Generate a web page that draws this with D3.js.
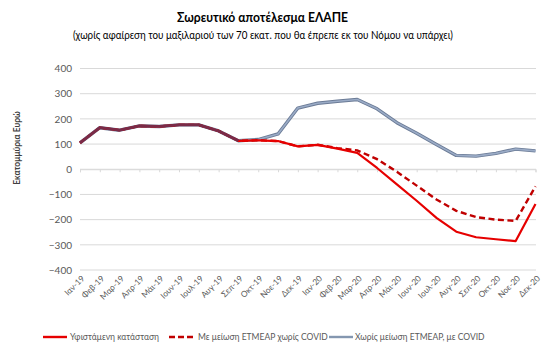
<!DOCTYPE html>
<html><head><meta charset="utf-8">
<script src="https://cdn.jsdelivr.net/npm/d3@7"></script>
<style>body{margin:0;background:#fff;} svg{display:block;font-family:Lato,"Open Sans",sans-serif;}</style>
</head><body>
<svg id="c" width="559" height="354"></svg>
<script>
const months = ["Ιαν-19","Φεβ-19","Μαρ-19","Απρ-19","Μάι-19","Ιουν-19","Ιουλ-19","Αυγ-19","Σεπ-19","Οκτ-19","Νοε-19","Δεκ-19",
                "Ιαν-20","Φεβ-20","Μαρ-20","Απρ-20","Μάι-20","Ιουν-20","Ιουλ-20","Αυγ-20","Σεπ-20","Οκτ-20","Νοε-20","Δεκ-20"];
const current = [105,165,155,172,170,176,176,152,113,115,112,91,97,82,65,5,-60,-125,-193,-248,-270,-278,-285,-138];
const noCovid = [105,165,155,172,170,176,176,152,113,115,112,91,97,84,75,40,-10,-65,-120,-165,-190,-200,-205,-68];
const covid   = [105,165,155,172,170,176,176,152,113,118,140,243,262,270,277,240,185,143,98,55,52,63,80,73];
const yTicks = [-400,-300,-200,-100,0,100,200,300,400];
const legendLabels = ["Υφιστάμενη κατάσταση","Με μείωση  ΕΤΜΕΑΡ χωρίς COVID","Χωρίς μείωση ΕΤΜΕΑΡ, με COVID"];

const svg = d3.select("#c");
const x = d3.scalePoint().domain(months).range([80, 535.5]);
const y = d3.scaleLinear().domain([-400, 400]).range([270, 68.5]);

// title
svg.append("text").attr("x", 262.5).attr("y", 22).attr("text-anchor","middle")
  .attr("font-size", 13).attr("font-weight","bold").attr("fill","#000")
  .attr("textLength",171).attr("lengthAdjust","spacingAndGlyphs")
  .text("Σωρευτικό αποτέλεσμα ΕΛΑΠΕ");
svg.append("text").attr("x", 263).attr("y", 39).attr("text-anchor","middle")
  .attr("font-size", 10.5).attr("fill","#000")
  .attr("textLength",380).attr("lengthAdjust","spacingAndGlyphs")
  .text("(χωρίς αφαίρεση του μαξιλαριού των 70 εκατ. που θα έπρεπε εκ του Νόμου να υπάρχει)");

// gridlines
svg.append("g").selectAll("line").data(yTicks).join("line")
  .attr("x1", 80).attr("x2", 536).attr("y1", d => y(d)).attr("y2", d => y(d))
  .attr("stroke", "#d9d9d9").attr("stroke-width", 1);

// y axis labels
const yAxis = d3.axisLeft(y).tickValues(yTicks).tickSize(0).tickPadding(8);
const gy = svg.append("g").attr("transform","translate(80,0)").call(yAxis);
gy.select(".domain").remove();
gy.selectAll("text").attr("font-size", 10).attr("fill", "#595959").attr("font-family","Lato,'Open Sans',sans-serif");

// zero axis with ticks
const xAxis = d3.axisBottom(x).tickSize(3).tickFormat("");
const gx = svg.append("g").attr("transform", `translate(0,${y(0)})`).call(xAxis);
gx.select(".domain").attr("stroke","#d9d9d9");
gx.selectAll(".tick line").attr("stroke","#d9d9d9");

// x labels (rotated)
svg.append("g").selectAll("text").data(months).join("text")
  .attr("transform", d => `translate(${x(d)+3},${277}) rotate(-45)`)
  .attr("text-anchor","end").attr("dy","0.35em")
  .attr("font-size", 8.3).attr("fill","#595959").text(d => d);

// y axis title
svg.append("text").attr("transform","translate(20,148) rotate(-90)")
  .attr("text-anchor","middle").attr("font-size", 8.5).attr("font-weight","bold")
  .attr("fill","#404040").text("Εκατομμύρια Ευρώ");

const line = d3.line().x((d,i) => x(months[i])).y(d => y(d));

// blue series (outlined)
svg.append("path").datum(covid).attr("d", line).attr("fill","none")
  .attr("stroke","#6b7b96").attr("stroke-width",3.4).attr("stroke-linejoin","round");
svg.append("path").datum(covid).attr("d", line).attr("fill","none")
  .attr("stroke","#9aabc6").attr("stroke-width",1.6).attr("stroke-linejoin","round");
// dashed red
svg.append("path").datum(noCovid).attr("d", line).attr("fill","none")
  .attr("stroke","#c00000").attr("stroke-width",2.4).attr("stroke-dasharray","6,3.5");
// solid red
svg.append("path").datum(current).attr("d", line).attr("fill","none")
  .attr("stroke","#e60000").attr("stroke-width",2.2).attr("stroke-linejoin","round");
// overlap segment where all series coincide
const overlap = d3.line().defined((d,i) => d === covid[i] && d === noCovid[i])
  .x((d,i) => x(months[i])).y(d => y(d));
svg.append("path").datum(current).attr("d", overlap).attr("fill","none")
  .attr("stroke","#7a2b48").attr("stroke-width",2.8).attr("stroke-linejoin","round");

// legend
const lg = svg.append("g");
const items = [
  {x0:43, x1:67, tx:70, color:"#e60000", dash:null, label:legendLabels[0]},
  {x0:169, x1:193, tx:198, color:"#c00000", dash:"6,3", label:legendLabels[1]},
  {x0:329, x1:353, tx:355, color:"#8497b0", dash:null, label:legendLabels[2]}
];
items.forEach(it => {
  lg.append("line").attr("x1",it.x0).attr("x2",it.x1).attr("y1",337).attr("y2",337)
    .attr("stroke",it.color).attr("stroke-width", 2.4).attr("stroke-dasharray", it.dash);
  lg.append("text").attr("x", it.tx).attr("y", 337).attr("dy","0.35em")
    .attr("font-size", 8.5).attr("fill","#595959").text(it.label);
});
</script>
</body></html>
